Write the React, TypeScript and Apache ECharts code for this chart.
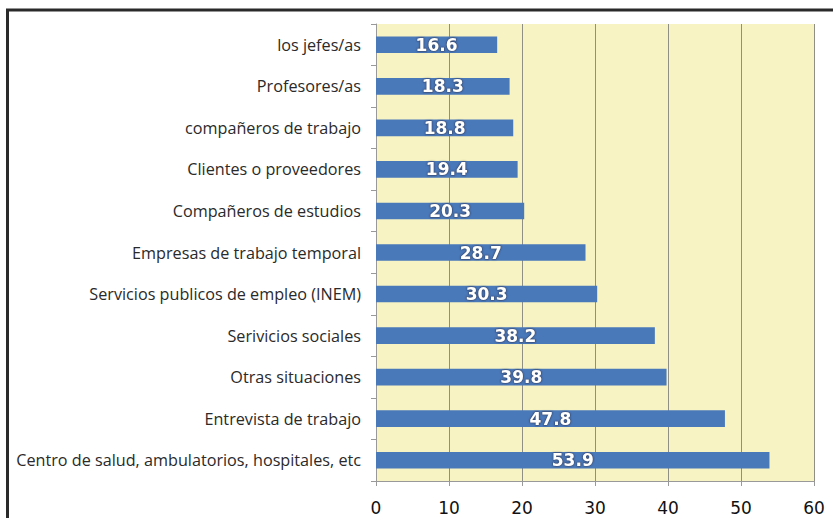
import React, { useEffect, useRef } from "react";
import * as echarts from "echarts";

const categories = [
  "Centro de salud, ambulatorios, hospitales, etc",
  "Entrevista de trabajo",
  "Otras situaciones",
  "Serivicios sociales",
  "Servicios publicos de empleo (INEM)",
  "Empresas de trabajo temporal",
  "Compañeros de estudios",
  "Clientes o proveedores",
  "compañeros de trabajo",
  "Profesores/as",
  "los jefes/as",
];
const values = [53.9, 47.8, 39.8, 38.2, 30.3, 28.7, 20.3, 19.4, 18.8, 18.3, 16.6];
const xTicks = [0, 10, 20, 30, 40, 50, 60];

export default function App() {
  const ref = useRef<HTMLDivElement>(null);
  useEffect(() => {
    document.body.style.margin = "0";
    const chart = echarts.init(ref.current!, undefined, { renderer: "svg" });
    chart.setOption({
      animation: false,
      backgroundColor: "#ffffff",
      grid: { left: 376, top: 24, right: 19, bottom: 37, show: true, backgroundColor: "#F7F3C2", borderWidth: 0 },
      xAxis: {
        type: "value",
        min: xTicks[0],
        max: xTicks[xTicks.length - 1],
        interval: 10,
        axisLine: { show: true, lineStyle: { color: "#999", width: 1 } },
        axisTick: { show: true, length: 5, lineStyle: { color: "#999" } },
        splitLine: { show: true, lineStyle: { color: "#8f8f86", width: 1 } },
        axisLabel: { color: "#111", fontFamily: "DejaVu Sans", fontSize: 17, margin: 18 },
      },
      yAxis: {
        type: "category",
        data: categories,
        axisLine: { show: true, lineStyle: { color: "#999", width: 1 } },
        axisTick: { show: true, length: 5, lineStyle: { color: "#999" } },
        axisLabel: { color: "#2a2a2a", fontFamily: "Open Sans", fontSize: 16.2, margin: 15 },
      },
      series: [
        {
          type: "bar",
          data: values,
          barWidth: "40%",
          itemStyle: { color: "#4A79BA" },
          label: {
            show: true,
            position: "inside",
            color: "#ffffff",
            fontFamily: "DejaVu Sans",
            fontWeight: "bold",
            fontSize: 17,
            formatter: (p: any) => p.value.toFixed(1),
            textShadowColor: "rgba(40,50,80,0.8)",
            textShadowBlur: 2,
            textBorderColor: "rgba(60,70,100,0.5)",
            textBorderWidth: 1,
          },
        },
      ],
      graphic: [
        { type: "line", shape: { x1: 6, y1: 10, x2: 833, y2: 10 }, style: { stroke: "#2a2a2a", lineWidth: 3 } },
        { type: "line", shape: { x1: 7.5, y1: 9, x2: 7.5, y2: 518 }, style: { stroke: "#2a2a2a", lineWidth: 3 } },
      ],
    });
    return () => chart.dispose();
  }, []);
  return <div ref={ref} style={{ position: "absolute", left: 0, top: 0, width: 833, height: 518 }} />;
}
